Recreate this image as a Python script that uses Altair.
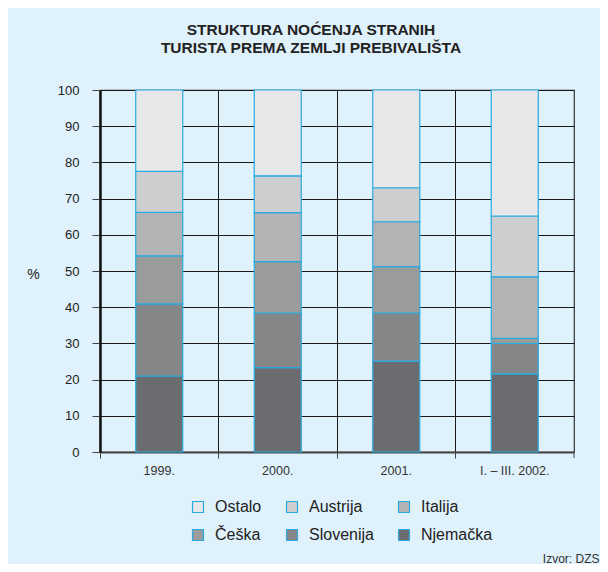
import altair as alt
import pandas as pd

years = ["1999.", "2000.", "2001.", "I. – III. 2002."]
# legend order (filled column by column): Ostalo/Češka, Austrija/Slovenija, Italija/Njemačka
categories = ["Ostalo", "Češka", "Austrija", "Slovenija", "Italija", "Njemačka"]
colors = ["#e6e7e8", "#9a9c9b", "#cdcecf", "#858687", "#b2b3b5", "#6b6c6f"]

njemacka = [21.0, 23.3, 25.1, 21.6]
slovenija = [19.9, 15.1, 13.3, 8.4]
ceska = [13.3, 14.2, 12.8, 1.4]
italija = [12.0, 13.5, 12.4, 17.0]
austrija = [11.3, 10.2, 9.4, 16.8]
ostalo = [22.5, 23.7, 27.0, 34.8]

series = {
    "Njemačka": njemacka,
    "Slovenija": slovenija,
    "Češka": ceska,
    "Italija": italija,
    "Austrija": austrija,
    "Ostalo": ostalo,
}

rows = []
for order, (name, vals) in enumerate(series.items()):
    for y, v in zip(years, vals):
        rows.append({"godina": y, "zemlja": name, "udio": v, "red": order})
df = pd.DataFrame(rows)

FONT = "Liberation Sans"

bars = alt.Chart(df).mark_bar(size=47, stroke="#29abe2", strokeWidth=1.2).encode(
    x=alt.X(
        "godina:N",
        sort=years,
        scale=alt.Scale(paddingInner=0, paddingOuter=0),
        axis=alt.Axis(
            title="Izvor: DZS",
            titleX=499,
            titleY=110,
            titleAlign="right",
            titleBaseline="alphabetic",
            titleFontSize=12,
            titleFontWeight="normal",
            titleColor="#333",
            titleFont=FONT,
            bandPosition=0,
            labelAngle=0,
            labelFontSize=12.5,
            labelColor="#333",
            labelFont=FONT,
            labelPadding=6,
            tickSize=6,
            tickColor="#444",
            tickWidth=1,
            domainColor="#444",
            domainWidth=2,
            grid=True,
            gridColor="#1a1a1a",
            gridWidth=1,
        ),
    ),
    y=alt.Y(
        "udio:Q",
        stack="zero",
        scale=alt.Scale(domain=[0, 100], nice=False),
        axis=alt.Axis(
            values=list(range(0, 101, 10)),
            title="%",
            titleAngle=0,
            titleX=-67,
            titleY=188,
            titleAlign="center",
            titleBaseline="alphabetic",
            titleFontSize=14,
            titleFontWeight="normal",
            titleColor="#222",
            titleFont=FONT,
            labelFontSize=13,
            labelColor="#222",
            labelFont=FONT,
            labelPadding=13,
            tickSize=8,
            tickColor="#444",
            domainColor="#111",
            domainWidth=2.5,
            grid=True,
            gridColor="#1a1a1a",
            gridWidth=1,
        ),
    ),
    color=alt.Color(
        "zemlja:N",
        scale=alt.Scale(domain=categories, range=colors),
        legend=alt.Legend(
            title=None,
            orient="none",
            legendX=90,
            legendY=409,
            columns=3,
            symbolType="square",
            symbolSize=120,
            symbolStrokeColor="#29abe2",
            symbolStrokeWidth=1.2,
            labelFontSize=16,
            labelFont=FONT,
            labelColor="#222",
            labelOffset=9,
            rowPadding=12,
            columnPadding=22,
            padding=0,
        ),
    ),
    order=alt.Order("red:Q", sort="ascending"),
)

edge_tick = alt.Chart(pd.DataFrame({"a": [0]})).mark_rule(color="#444", strokeWidth=1).encode(
    x=alt.value(474), y=alt.value(362), y2=alt.value(368)
)

chart = alt.layer(bars, edge_tick).properties(
    width=474,
    height=362,
    autosize=alt.AutoSizeParams(type="none"),
    padding={"left": 92, "top": 82, "right": 26, "bottom": 112},
    background="#dff1fb",
    title=alt.Title(
        ["STRUKTURA NOĆENJA STRANIH", "TURISTA PREMA ZEMLJI PREBIVALIŠTA"],
        anchor="middle",
        frame="group",
        dx=-26,
        offset=28,
        fontSize=15.5,
        font=FONT,
        fontWeight="bold",
        color="#222",
        lineHeight=18,
    ),
).configure_view(stroke="#333", strokeWidth=1.2)

chart.save("out.html", embed_options={"renderer": "svg", "actions": False})
